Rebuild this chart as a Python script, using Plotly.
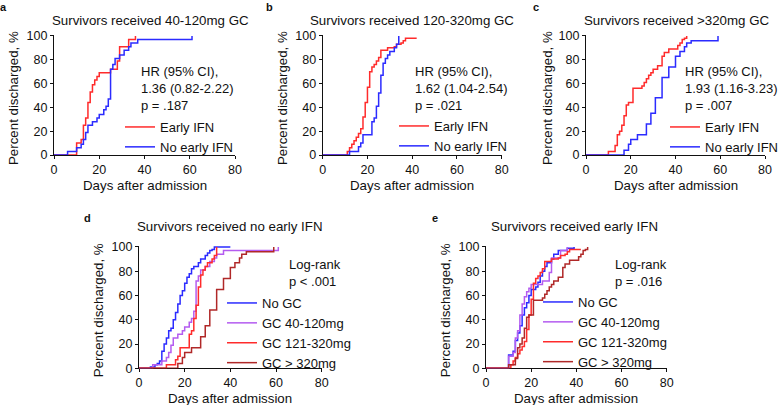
import plotly.graph_objects as go

# ---------------- data ----------------
# Panel a: survivors received 40-120 mg GC
a_early_days = [0, 10, 12, 13, 14, 15, 16, 17, 18, 19, 20, 25, 28, 29, 33, 36]
a_early_pct = [0, 10, 13, 25, 31, 44, 53, 59, 63, 66, 69, 72, 79, 91, 97, 100]
a_noearly_days = [0, 6, 10, 12, 13, 14, 15, 17, 19, 20, 22, 23, 24, 25, 26, 27, 29, 31, 33, 34, 37, 61]
a_noearly_pct = [0, 3, 6, 9, 13, 19, 25, 28, 31, 34, 38, 41, 47, 72, 76, 81, 84, 88, 91, 94, 97, 100]

# Panel b: survivors received 120-320 mg GC
b_early_days = [0, 11, 12, 13, 14, 15, 16, 17, 18, 19, 20, 21, 22, 23, 24, 25, 26, 29, 32, 33, 35, 36, 37, 42]
b_early_pct = [0, 3, 6, 9, 12, 15, 18, 22, 32, 44, 57, 70, 74, 76, 79, 82, 88, 90, 91, 93, 94, 96, 98, 98]
b_noearly_days = [0, 12, 16, 17, 18, 22, 23, 24, 25, 26, 27, 28, 29, 30, 32, 33, 34]
b_noearly_pct = [0, 3, 7, 10, 17, 28, 31, 41, 52, 67, 77, 81, 84, 87, 90, 93, 100]

# Panel c: survivors received >320 mg GC
c_early_days = [0, 10, 13, 14, 15, 16, 17, 18, 19, 21, 25, 26, 27, 28, 29, 30, 32, 34, 35, 37, 41, 42, 43, 44, 45]
c_early_pct = [0, 3, 8, 17, 20, 25, 33, 42, 44, 56, 58, 61, 64, 67, 69, 72, 75, 83, 86, 89, 92, 94, 97, 98, 100]
c_noearly_days = [0, 17, 19, 20, 23, 27, 29, 31, 34, 37, 40, 42, 44, 45, 47, 59]
c_noearly_pct = [0, 4, 9, 13, 17, 26, 35, 48, 65, 74, 83, 87, 91, 94, 96, 100]

# Panel d: no early IFN, no GC
d_nogc_days = [0, 5, 7, 8, 9, 10, 11, 12, 13, 14, 15, 16, 17, 18, 19, 20, 21, 22, 23, 24, 26, 27, 29, 30, 31, 32, 33, 40]
d_nogc_pct = [0, 1, 3, 4, 6, 14, 20, 25, 31, 33, 40, 46, 53, 60, 64, 70, 75, 78, 82, 84, 87, 90, 93, 95, 97, 98, 100, 100]

# Panel e: early IFN, no GC
e_nogc_days = [0, 10, 12, 13, 14, 15, 16, 17, 18, 19, 20, 22, 23, 24, 25, 26, 27, 29, 30, 32, 36, 39]
e_nogc_pct = [0, 11, 14, 23, 29, 35, 44, 50, 54, 60, 65, 67, 71, 76, 80, 84, 87, 90, 94, 97, 99, 100]

x_ticks = [0, 20, 40, 60, 80]
y_ticks = [0, 20, 40, 60, 80, 100]

titles = ["Survivors received 40-120mg GC", "Survivors received 120-320mg GC",
          "Survivors received >320mg GC", "Survivors received no early IFN",
          "Survivors received early IFN"]
stats_top = ["HR (95% CI),<br>1.36 (0.82-2.22)<br>p = .187",
             "HR (95% CI),<br>1.62 (1.04-2.54)<br>p = .021",
             "HR (95% CI),<br>1.93 (1.16-3.23)<br>p = .007"]
stats_bottom = ["Log-rank<br>p < .001", "Log-rank<br>p = .016"]

# ---------------- style ----------------
RED = "#ff2b2b"
BLUE = "#2b2bff"
PURPLE = "#b45cf0"
DARKRED = "#b02828"
FONT = "Liberation Sans, Arial, sans-serif"
W, H = 778, 405


def px(x):
    return x / W


def py(y):
    return 1 - y / H


# plot areas in pixels: (x0, x1, ytop, ybottom)
areas = [(54, 235, 35, 155), (322.7, 501.7, 35, 155), (586, 765, 35, 155),
         (139, 321.7, 246, 368.3), (486, 666.7, 246, 368.3)]

fig = go.Figure()


def add(days, pct, name, color, idx, legend):
    sfx = "" if idx == 1 else str(idx)
    fig.add_trace(go.Scatter(
        x=days, y=pct, mode="lines", name=name,
        line=dict(color=color, width=1.5, shape="hv"),
        xaxis="x" + sfx, yaxis="y" + sfx, legend=legend,
        hoverinfo="x+y+name"))


add(a_early_days, a_early_pct, "Early IFN", RED, 1, "legend")
add(a_noearly_days, a_noearly_pct, "No early IFN", BLUE, 1, "legend")
add(b_early_days, b_early_pct, "Early IFN", RED, 2, "legend2")
add(b_noearly_days, b_noearly_pct, "No early IFN", BLUE, 2, "legend2")
add(c_early_days, c_early_pct, "Early IFN", RED, 3, "legend3")
add(c_noearly_days, c_noearly_pct, "No early IFN", BLUE, 3, "legend3")

add(d_nogc_days, d_nogc_pct, "No GC", BLUE, 4, "legend4")
add(a_noearly_days, a_noearly_pct, "GC 40-120mg", PURPLE, 4, "legend4")
add(b_noearly_days, b_noearly_pct, "GC 121-320mg", RED, 4, "legend4")
add(c_noearly_days, c_noearly_pct, "GC > 320mg", DARKRED, 4, "legend4")

add(e_nogc_days, e_nogc_pct, "No GC", BLUE, 5, "legend5")
add(a_early_days, a_early_pct, "GC 40-120mg", PURPLE, 5, "legend5")
add(b_early_days, b_early_pct, "GC 121-320mg", RED, 5, "legend5")
add(c_early_days, c_early_pct, "GC > 320mg", DARKRED, 5, "legend5")

layout = dict(
    width=W, height=H, margin=dict(l=0, r=0, t=0, b=0, autoexpand=False),
    paper_bgcolor="white", plot_bgcolor="white",
    font=dict(family=FONT, size=13, color="#111"),
    showlegend=True,
)

axis_common = dict(showline=True, linecolor="#111", linewidth=1.2, ticks="outside",
                   ticklen=3, tickwidth=1.2, tickcolor="#111", showgrid=False,
                   zeroline=False, layer="below traces", automargin=False,
                   tickfont=dict(family=FONT, size=12.5, color="#111"))

annotations = []
for i, (x0, x1, yt, yb) in enumerate(areas, start=1):
    sfx = "" if i == 1 else str(i)
    layout["xaxis" + sfx] = dict(axis_common, domain=[px(x0), px(x1)], range=[0, 80],
                                 tickvals=x_ticks, anchor="y" + sfx)
    layout["yaxis" + sfx] = dict(axis_common, domain=[py(yb), py(yt)], range=[0, 100.8],
                                 tickvals=y_ticks, anchor="x" + sfx)

# panel titles
title_pos = [(150.7, 20), (411.5, 20), (676.5, 20), (230, 227), (574, 227)]
for t, (x, y) in zip(titles, title_pos):
    annotations.append(dict(text=t, x=px(x), y=py(y), xref="paper", yref="paper",
                            showarrow=False, xanchor="center", yanchor="middle",
                            font=dict(size=13.3)))

# panel letters
for t, (x, y) in zip("abcde", [(3, 7), (269.5, 7), (535.5, 7), (87.5, 218), (434.5, 218)]):
    annotations.append(dict(text="<b>%s</b>" % t, x=px(x), y=py(y), xref="paper", yref="paper",
                            showarrow=False, xanchor="center", yanchor="middle",
                            font=dict(size=11)))

# axis titles
ytitle_x = [13, 282, 547, 98, 445]
for (x0, x1, yt, yb), yx in zip(areas, ytitle_x):
    annotations.append(dict(text="Percent discharged, %", x=px(yx), y=py((yt + yb) / 2 + 3),
                            xref="paper", yref="paper", showarrow=False, textangle=-90,
                            xanchor="center", yanchor="middle", font=dict(size=13.3)))
    annotations.append(dict(text="Days after admission", x=px((x0 + x1) / 2), y=py(yb + 30.5),
                            xref="paper", yref="paper", showarrow=False,
                            xanchor="center", yanchor="middle", font=dict(size=13.3)))

# statistics text
for t, x in zip(stats_top, [139, 413, 683]):
    annotations.append(dict(text=t, x=px(x), y=py(62), xref="paper", yref="paper",
                            showarrow=False, xanchor="left", yanchor="top", align="left",
                            font=dict(size=13)))
for t, x in zip(stats_bottom, [287, 613]):
    annotations.append(dict(text=t, x=px(x), y=py(255), xref="paper", yref="paper",
                            showarrow=False, xanchor="left", yanchor="top", align="left",
                            font=dict(size=13)))
layout["annotations"] = annotations

# legends: (text-start x px, first-item centre y px)
leg_pos = [(160, 124), (434, 123), (705, 124), (262, 300), (578, 299)]
for i, (tx, ty) in enumerate(leg_pos, start=1):
    key = "legend" if i == 1 else "legend%d" % i
    layout[key] = dict(x=px(tx - 40), y=py(ty - 12), xanchor="left", yanchor="top",
                       bgcolor="rgba(0,0,0,0)", font=dict(size=13, family=FONT),
                       itemwidth=30, tracegroupgap=0)

fig.update_layout(**layout)
fig.write_html("out.html", config={"displayModeBar": False},
               post_script="document.body.style.margin='0';document.body.style.overflow='hidden';")
